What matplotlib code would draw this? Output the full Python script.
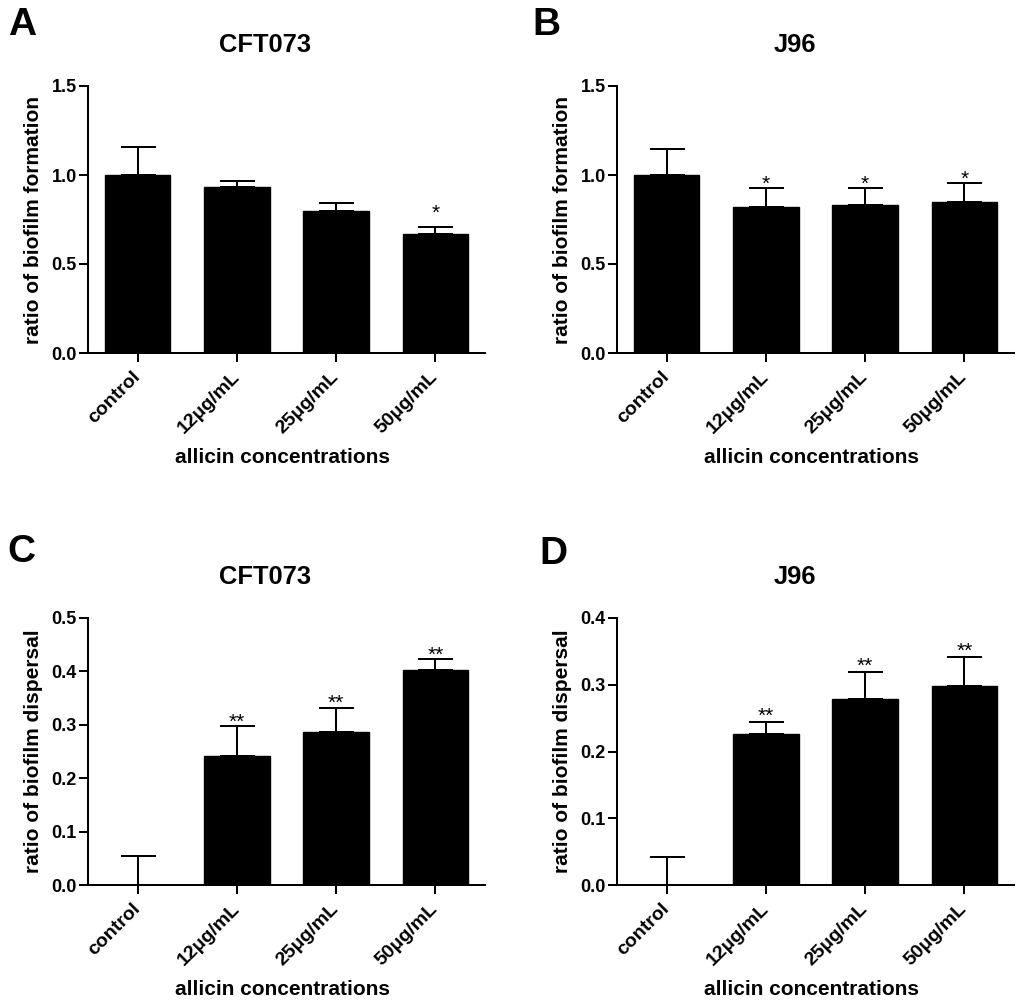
import matplotlib
matplotlib.use("Agg")
import matplotlib.pyplot as plt
import matplotlib.transforms as mtransforms
import numpy as np

plt.rcParams['font.family'] = ['Liberation Sans', 'DejaVu Sans']

categories = ["control", "12μg/mL", "25μg/mL", "50μg/mL"]

# Panel A: CFT073 biofilm formation
a_means = [1.0, 0.934, 0.798, 0.669]
a_errs = [0.16, 0.033, 0.045, 0.039]
a_sig = ["", "", "", "*"]

# Panel B: J96 biofilm formation
b_means = [1.0, 0.820, 0.831, 0.846]
b_errs = [0.144, 0.105, 0.094, 0.108]
b_sig = ["", "*", "*", "*"]

# Panel C: CFT073 biofilm dispersal
c_means = [0.0, 0.242, 0.287, 0.403]
c_errs = [0.054, 0.055, 0.045, 0.020]
c_sig = ["", "**", "**", "**"]

# Panel D: J96 biofilm dispersal
d_means = [0.0, 0.226, 0.279, 0.298]
d_errs = [0.042, 0.018, 0.040, 0.044]
d_sig = ["", "**", "**", "**"]

W, H = 1024, 1006
fig = plt.figure(figsize=(W / 100, H / 100), dpi=100)

def px_rect(left, top, right, bottom):
    return [left / W, 1 - bottom / H, (right - left) / W, (bottom - top) / H]

panels = [
    dict(rect=px_rect(88, 86, 485, 353), means=a_means, errs=a_errs, sig=a_sig,
         title="CFT073", ylabel="ratio of biofilm formation", ymax=1.5, ystep=0.5,
         letter="A", lpos=(21.7, 25), star_off=5.8),
    dict(rect=px_rect(617, 86, 1014, 353), means=b_means, errs=b_errs, sig=b_sig,
         title="J96", ylabel="ratio of biofilm formation", ymax=1.5, ystep=0.5,
         letter="B", lpos=(546, 25), star_off=-1.2),
    dict(rect=px_rect(88, 618, 485, 885), means=c_means, errs=c_errs, sig=c_sig,
         title="CFT073", ylabel="ratio of biofilm dispersal", ymax=0.5, ystep=0.1,
         letter="C", lpos=(21.7, 552), star_off=-1.0),
    dict(rect=px_rect(617, 618, 1014, 885), means=d_means, errs=d_errs, sig=d_sig,
         title="J96", ylabel="ratio of biofilm dispersal", ymax=0.4, ystep=0.1,
         letter="D", lpos=(553, 554), star_off=0.0),
]

lw = 1.45
for p in panels:
    ax = fig.add_axes(p["rect"])
    x = np.arange(len(categories))
    means = np.array(p["means"])
    errs = np.array(p["errs"])
    ax.bar(x, means, width=0.66, color="black", edgecolor="black", linewidth=1, zorder=2)
    ax.errorbar(x, means, yerr=[np.zeros_like(errs), errs], fmt="none", ecolor="black",
                elinewidth=lw, capsize=12.6, capthick=lw, zorder=3)
    for xi, m, e, s in zip(x, means, errs, p["sig"]):
        if s:
            ax.annotate(s, xy=(xi, m + e), xytext=(0, p["star_off"]), textcoords="offset points",
                        ha="center", va="baseline", fontsize=15, fontweight="normal")
    ax.set_xlim(-0.5, 3.5)
    ax.set_ylim(0, p["ymax"])
    ticks = np.round(np.arange(0, p["ymax"] + 1e-9, p["ystep"]), 2)
    ax.set_yticks(ticks)
    ax.set_yticklabels([f"{t:.1f}" for t in ticks], fontsize=13, fontweight="bold")
    ax.set_xticks(x)
    ax.set_xticklabels(categories, fontsize=14, fontweight="bold", rotation=45,
                       ha="right", va="center", rotation_mode="anchor")
    offset = mtransforms.ScaledTranslation(4 / 100, 0, fig.dpi_scale_trans)
    for lab in ax.get_xticklabels():
        lab.set_transform(lab.get_transform() + offset)
    for sp in ["top", "right"]:
        ax.spines[sp].set_visible(False)
    for sp in ["left", "bottom"]:
        ax.spines[sp].set_linewidth(lw)
    ax.tick_params(axis="both", direction="out", length=6.5, width=lw)
    ax.tick_params(axis="y", pad=1.5)
    ax.tick_params(axis="x", pad=9)
    ax.set_ylabel(p["ylabel"], fontsize=15, fontweight="bold")
    ax.yaxis.set_label_coords(-54 / 397, 0.5)
    ax.yaxis.label.set_verticalalignment("center")
    ax.set_xlabel("allicin concentrations", fontsize=15, fontweight="bold")
    ax.xaxis.set_label_coords(0.489, -0.393)
    ax.xaxis.label.set_verticalalignment("center")
    ax.text(0.447, 1.155, p["title"], transform=ax.transAxes, ha="center", va="center",
            fontsize=18.4, fontweight="bold")
    fig.text(p["lpos"][0] / W, 1 - p["lpos"][1] / H, p["letter"], ha="center", va="center",
             fontsize=28, fontweight="bold")

fig.savefig("out.png", dpi=100)
